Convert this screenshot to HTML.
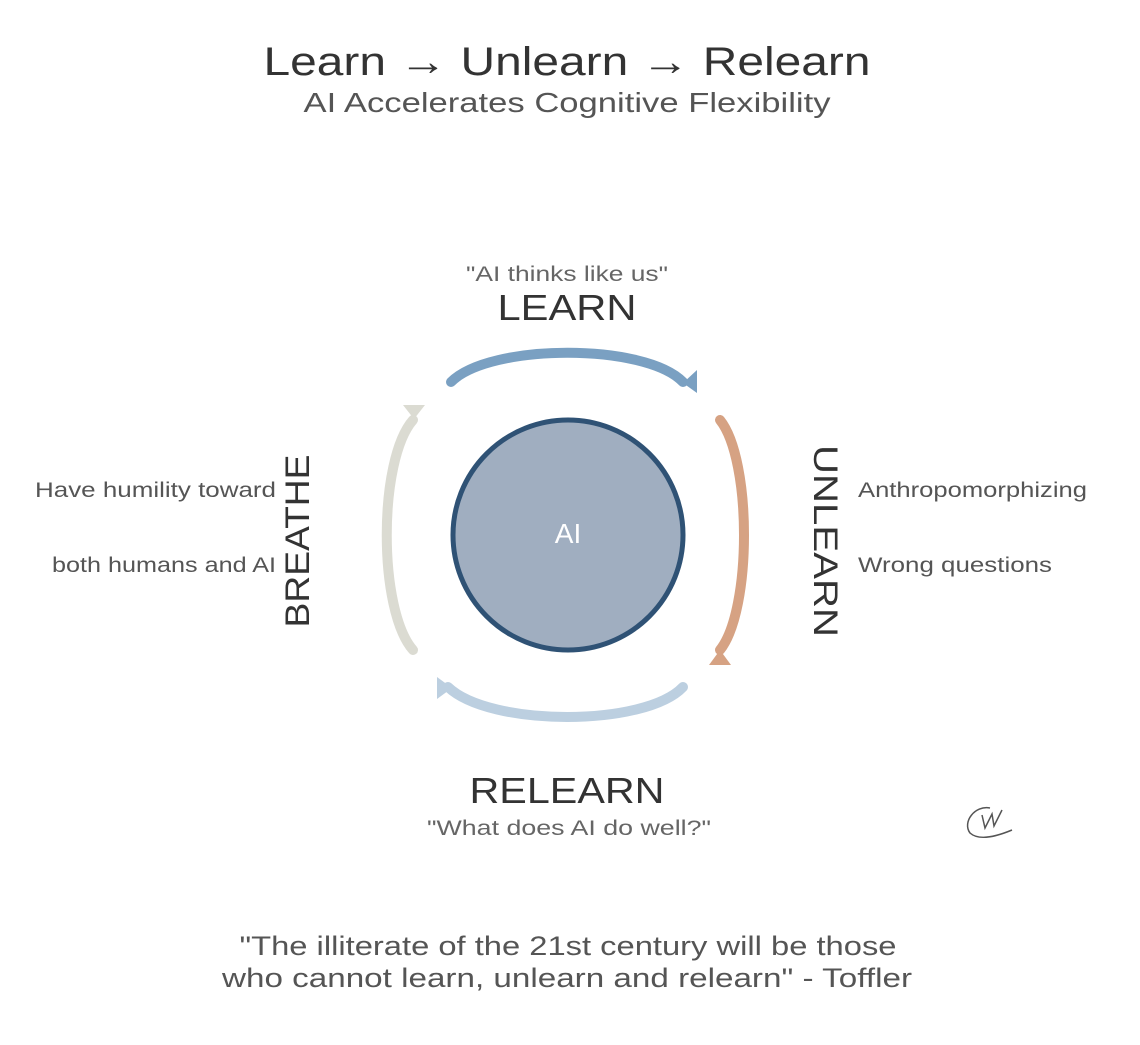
<!DOCTYPE html>
<html><head><meta charset="utf-8"><style>
html,body{margin:0;padding:0;background:#fff;}
body{width:1140px;height:1040px;overflow:hidden;}
text{font-family:"Liberation Sans",sans-serif;}
</style></head><body>
<svg width="1140" height="1040" viewBox="0 0 1140 1040" xmlns="http://www.w3.org/2000/svg">
<text x="567" y="75" font-size="40" fill="#333" text-anchor="middle" textLength="607" lengthAdjust="spacingAndGlyphs">Learn → Unlearn → Relearn</text>
<text x="567" y="112" font-size="28" fill="#555" text-anchor="middle" textLength="527" lengthAdjust="spacingAndGlyphs">AI Accelerates Cognitive Flexibility</text>

<text x="567" y="281" font-size="21" fill="#666" text-anchor="middle" textLength="202" lengthAdjust="spacingAndGlyphs">"AI thinks like us"</text>
<text x="567" y="320" font-size="36" fill="#333" text-anchor="middle" textLength="139" lengthAdjust="spacingAndGlyphs">LEARN</text>

<text x="567" y="803" font-size="36" fill="#333" text-anchor="middle" textLength="195" lengthAdjust="spacingAndGlyphs">RELEARN</text>
<text x="569" y="835" font-size="21" fill="#666" text-anchor="middle" textLength="284" lengthAdjust="spacingAndGlyphs">"What does AI do well?"</text>

<text transform="translate(297,541) rotate(-90)" font-size="34" fill="#333" text-anchor="middle" dy="12" textLength="173" lengthAdjust="spacingAndGlyphs">BREATHE</text>
<text transform="translate(826,541) rotate(90)" font-size="34" fill="#333" text-anchor="middle" dy="12" textLength="192" lengthAdjust="spacingAndGlyphs">UNLEARN</text>

<text x="276" y="497" font-size="21" fill="#555" text-anchor="end" textLength="241" lengthAdjust="spacingAndGlyphs">Have humility toward</text>
<text x="276" y="572" font-size="21" fill="#555" text-anchor="end" textLength="224" lengthAdjust="spacingAndGlyphs">both humans and AI</text>
<text x="858" y="497" font-size="21" fill="#555" textLength="229" lengthAdjust="spacingAndGlyphs">Anthropomorphizing</text>
<text x="858" y="572" font-size="21" fill="#555" textLength="194" lengthAdjust="spacingAndGlyphs">Wrong questions</text>

<g fill="none" stroke-linecap="round" stroke-width="10">
<path d="M451 382 C490 343 645 343 683 382" stroke="#7aa0c2"/>
<path d="M720 420 C752 460 752 610 720 650" stroke="#d6a283"/>
<path d="M448 687 C490 727 645 727 683 687" stroke="#bccfe0"/>
<path d="M413 420 C378 460 378 610 413 650" stroke="#dbdbd2"/>
</g>
<polygon points="697,370 697,393 683,383" fill="#7aa0c2"/>
<polygon points="709,665 731,665 720,650" fill="#d6a283"/>
<polygon points="437,677 437,699 452,688" fill="#bccfe0"/>
<polygon points="403,405 425,405 414,419" fill="#dbdbd2"/>

<circle cx="568" cy="535" r="115" fill="#a0aec0" stroke="#2f5275" stroke-width="5"/>
<text x="568" y="543" font-size="28" fill="#fff" text-anchor="middle">AI</text>

<path d="M990 808 C975 805 962 822 970 833 C980 842 1000 835 1012 830" fill="none" stroke="#555" stroke-width="1.5"/>
<path d="M982 815 L985 828 L992 814 L994 826 L1002 810" fill="none" stroke="#555" stroke-width="1.5"/>

<text x="568" y="955" font-size="27" fill="#555" text-anchor="middle" textLength="657" lengthAdjust="spacingAndGlyphs">"The illiterate of the 21st century will be those</text>
<text x="567" y="987" font-size="27" fill="#555" text-anchor="middle" textLength="690" lengthAdjust="spacingAndGlyphs">who cannot learn, unlearn and relearn" - Toffler</text>
</svg>
</body></html>
